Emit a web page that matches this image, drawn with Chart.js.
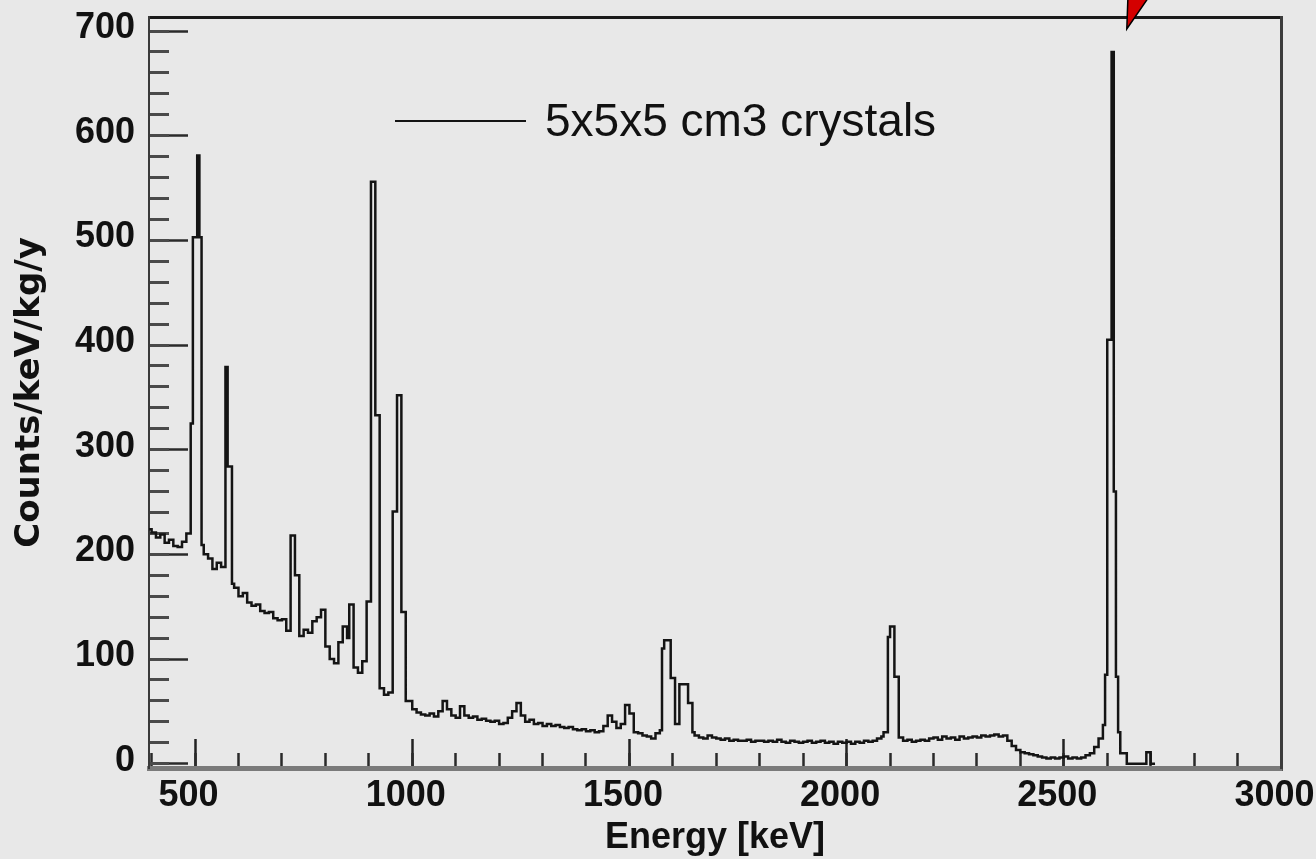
<!DOCTYPE html>
<html>
<head>
<meta charset="utf-8">
<title>Background spectrum – 5x5x5 cm3 crystals</title>
<script src="https://cdn.jsdelivr.net/npm/chart.js@4.4.1/dist/chart.umd.min.js"></script>
<style>
  html, body { margin: 0; padding: 0; background: #e8e8e8; }
  canvas { display: block; }
</style>
</head>
<body>
<canvas id="spectrum" width="1316" height="859"></canvas>
<script>
// ---- Histogram data -------------------------------------------------------
// Low edge of every bin (keV); bins are narrower around the gamma lines.
const binLowKeV = [
  390, 400, 410, 420, 430, 440, 450, 460, 470, 480,
  490, 495, 505, 510, 515,
  520, 530, 540, 550, 560,
  570, 575, 585,
  590, 600, 610, 620, 630, 640, 650, 660, 670, 680, 690, 700, 710,
  720, 730,
  740, 750, 760, 770, 780, 790, 800, 810, 820, 830, 840, 850,
  855, 865, 875, 885,
  895, 905, 915, 925, 935, 945,
  955, 965, 975, 985,
  1000, 1010, 1020, 1030, 1040, 1050, 1060, 1070, 1080, 1090,
  1100, 1110, 1120, 1130, 1140, 1150, 1160, 1170, 1180, 1190,
  1200, 1210, 1220, 1230, 1240, 1250, 1260, 1270, 1280, 1290,
  1300, 1310, 1320, 1330, 1340, 1350, 1360, 1370, 1380, 1390,
  1400, 1410, 1420, 1430, 1440, 1450, 1460, 1470, 1480, 1490,
  1500, 1510, 1520, 1530, 1540, 1550, 1560, 1570,
  1575, 1580, 1595, 1605, 1615, 1635, 1645,
  1650, 1660, 1670, 1680, 1690, 1700, 1710, 1720, 1730, 1740,
  1750, 1760, 1770, 1780, 1790, 1800, 1810, 1820, 1830, 1840,
  1850, 1860, 1870, 1880, 1890, 1900, 1910, 1920, 1930, 1940,
  1950, 1960, 1970, 1980, 1990, 2000, 2010, 2020, 2030, 2040,
  2050, 2060, 2070, 2080,
  2085, 2095, 2100, 2110,
  2120, 2130, 2140, 2150, 2160, 2170, 2180, 2190, 2200, 2210,
  2220, 2230, 2240, 2250, 2260, 2270, 2280, 2290, 2300, 2310,
  2320, 2330, 2340, 2350, 2360, 2370, 2380, 2390, 2400, 2410,
  2420, 2430, 2440, 2450, 2460, 2470, 2480, 2490, 2500, 2510,
  2520, 2530, 2540, 2550, 2560, 2570, 2580,
  2590, 2595, 2600, 2610, 2615, 2620, 2625, 2630, 2645, 2690, 2700
];
// Bin contents (counts/keV/kg/y), one per low edge above.
const countsPerKeV = [
  224, 221, 216, 219, 211, 214, 208, 207, 212, 220,
  325, 503, 581, 503, 209,
  200, 196, 186, 192, 188,
  379, 284, 172,
  168, 160, 163, 154, 151, 152, 146, 144, 145, 139, 137, 138, 127,
  218, 180,
  122, 128, 125, 136, 140, 147, 112, 100, 96, 116, 131, 120,
  152, 92, 87, 98,
  155, 556, 333, 72, 66, 68,
  241, 352, 145, 60,
  52, 49, 47, 46, 48, 45, 50, 60, 52, 46,
  44, 55, 46, 44, 45, 42, 43, 41, 40, 41,
  38, 39, 44, 50, 58, 46, 40, 42, 38, 39,
  36, 38, 36, 37, 35, 34, 35, 33, 32, 33,
  31, 32, 30, 31, 36, 46, 40, 34, 38, 56,
  48, 30, 29, 27, 26, 24, 29, 32,
  110, 118, 82, 38, 76, 58, 30,
  27, 25, 24, 27, 25, 24, 23, 24, 22, 23,
  22, 22, 23, 21, 22, 22, 21, 22, 21, 23,
  21, 20, 22, 21, 20, 21, 22, 20, 21, 22,
  20, 21, 19, 21, 20, 21, 19, 21, 20, 22,
  21, 22, 24, 26,
  30, 121, 131, 83,
  25, 22, 23, 21, 22, 23, 22, 24, 25, 23,
  26, 24, 25, 23, 26, 24, 25, 26, 25, 27,
  26, 27, 28, 26, 27, 22, 17, 13, 11, 10,
  9, 8, 7, 6, 5, 6, 5, 6, 7, 5,
  6, 5, 6, 8, 10, 16, 24,
  37, 85, 405, 680, 260, 83, 30, 10, 0, 11, 0
];
// Upper edge of the last bin (keV)
const histUpperKeV = 2710;

// ---- Axes ------------------------------------------------------------------
const energyRange = [394, 3000];
const countRange = [-4.1, 713.4];
const energyMajorTicks = [500, 1000, 1500, 2000, 2500, 3000];
const energyMinorTicks = [400, 500, 600, 700, 800, 900, 1000, 1100, 1200, 1300, 1400,
  1500, 1600, 1700, 1800, 1900, 2000, 2100, 2200, 2300, 2400, 2500, 2600, 2700,
  2800, 2900, 3000];
const countMajorTicks = [0, 100, 200, 300, 400, 500, 600, 700];
const countMinorTicks = [0, 20, 40, 60, 80, 100, 120, 140, 160, 180, 200, 220, 240,
  260, 280, 300, 320, 340, 360, 380, 400, 420, 440, 460, 480, 500, 520, 540, 560,
  580, 600, 620, 640, 660, 680, 700];

const seriesLabel = '5x5x5 cm3 crystals';
const energyTitle = 'Energy [keV]';
const countTitle = 'Counts/keV/kg/y';
// Arrow pointing at the 2614 keV line
const arrowTip = { energy: 2645, count: 702 };

// ---- Drawing ---------------------------------------------------------------
const SANS = "'Liberation Sans', Arial, Helvetica, sans-serif";
const INK = '#111111';

const points = binLowKeV.map((e, i) => ({ x: e, y: countsPerKeV[i] }));
points.push({ x: histUpperKeV, y: countsPerKeV[countsPerKeV.length - 1] });

// frame box sizes around the plot area (px)
const FRAME = { left: 149, right: 35, top: 17, bottom: 91 };

function sized(width, height) {
  return (scale) => {
    if (width !== null) scale.width = width;
    if (height !== null) scale.height = height;
    scale.paddingLeft = 0; scale.paddingRight = 0;
    scale.paddingTop = 0; scale.paddingBottom = 0;
  };
}
function tickSet(values) {
  return (scale) => { scale.ticks = values.map(v => ({ value: v })); };
}
const plainNumber = (v) => String(v);

const inlineLegend = {
  id: 'inlineLegend',
  afterDatasetsDraw(chart) {
    const ds = chart.data.datasets[0];
    const ctx = chart.ctx;
    ctx.save();
    ctx.strokeStyle = ds.borderColor;
    ctx.lineWidth = 2;
    ctx.beginPath();
    ctx.moveTo(395, 121);
    ctx.lineTo(526, 121);
    ctx.stroke();
    ctx.fillStyle = INK;
    ctx.font = '46px ' + SANS;
    ctx.textBaseline = 'middle';
    ctx.textAlign = 'left';
    ctx.fillText(ds.label, 545, 123);
    ctx.restore();
  }
};

const peakArrow = {
  id: 'peakArrow',
  afterDraw(chart) {
    const ctx = chart.ctx;
    const x = chart.scales.x.getPixelForValue(arrowTip.energy);
    const y = chart.scales.y.getPixelForValue(arrowTip.count);
    ctx.save();
    ctx.beginPath();
    ctx.moveTo(x, y);
    ctx.lineTo(x + 1.5, y - 42);
    ctx.lineTo(x + 29, y - 42);
    ctx.closePath();
    ctx.fillStyle = '#d40000';
    ctx.fill();
    ctx.lineWidth = 1.5;
    ctx.strokeStyle = '#000';
    ctx.stroke();
    ctx.restore();
  }
};

const hiddenLabels = { display: false };
const noGrid = { display: true, drawOnChartArea: false, drawTicks: false };

new Chart(document.getElementById('spectrum'), {
  type: 'line',
  data: {
    datasets: [{
      label: seriesLabel,
      data: points,
      stepped: true,
      borderColor: '#141414',
      borderWidth: 2.5,
      pointRadius: 0,
      fill: false,
      xAxisID: 'x',
      yAxisID: 'y'
    }]
  },
  options: {
    responsive: false,
    animation: false,
    devicePixelRatio: 1,
    events: [],
    layout: { padding: 0 },
    plugins: { legend: { display: false }, tooltip: { enabled: false } },
    scales: {
      x: {
        type: 'linear', axis: 'x', position: 'bottom', weight: 1,
        min: energyRange[0], max: energyRange[1],
        afterBuildTicks: tickSet(energyMajorTicks),
        afterFit: sized(null, FRAME.bottom),
        grid: { drawOnChartArea: false, drawTicks: true, tickLength: -29, tickWidth: 2.5, tickColor: '#222' },
        border: { display: true, color: '#7a7a7a', width: 5 },
        ticks: {
          callback: plainNumber, autoSkip: false, maxRotation: 0, minRotation: 0,
          color: INK, padding: 35, labelOffset: -6.5,
          font: { family: SANS, size: 36, weight: 'bold' }
        },
        title: {
          display: true, text: energyTitle, color: INK, padding: 0,
          font: { family: SANS, size: 36, weight: 'bold', lineHeight: 1.14 }
        }
      },
      xMinor: {
        type: 'linear', axis: 'x', position: 'bottom', weight: 0,
        min: energyRange[0], max: energyRange[1],
        afterBuildTicks: tickSet(energyMinorTicks),
        afterFit: sized(null, 0),
        grid: { drawOnChartArea: false, drawTicks: true, tickLength: -15, tickWidth: 2.5, tickColor: '#2a2a2a' },
        border: { display: false },
        ticks: hiddenLabels
      },
      xTop: {
        type: 'linear', axis: 'x', position: 'top',
        min: energyRange[0], max: energyRange[1],
        afterFit: sized(null, FRAME.top),
        grid: noGrid,
        border: { display: true, color: '#1a1a1a', width: 3 },
        ticks: hiddenLabels
      },
      y: {
        type: 'linear', axis: 'y', position: 'left', weight: 1,
        min: countRange[0], max: countRange[1],
        afterBuildTicks: tickSet(countMajorTicks),
        afterFit: sized(FRAME.left, null),
        grid: { drawOnChartArea: false, drawTicks: true, tickLength: -39, tickWidth: 2.5, tickColor: '#2a2a2a' },
        border: { display: true, color: '#3a3a3a', width: 2 },
        ticks: {
          callback: plainNumber, autoSkip: false,
          color: INK, padding: 53, labelOffset: -3,
          font: { family: SANS, size: 36, weight: 'bold' }
        },
        title: {
          display: true, text: countTitle, color: INK, padding: { top: 10, bottom: 0 },
          font: { family: "'DejaVu Sans', " + SANS, size: 34, weight: 'bold', lineHeight: 1.2 }
        }
      },
      yMinor: {
        type: 'linear', axis: 'y', position: 'left', weight: 0,
        min: countRange[0], max: countRange[1],
        afterBuildTicks: tickSet(countMinorTicks),
        afterFit: sized(0, null),
        grid: { drawOnChartArea: false, drawTicks: true, tickLength: -20, tickWidth: 3, tickColor: '#4a4a4a' },
        border: { display: false },
        ticks: hiddenLabels
      },
      yRight: {
        type: 'linear', axis: 'y', position: 'right',
        min: countRange[0], max: countRange[1],
        afterFit: sized(FRAME.right, null),
        grid: noGrid,
        border: { display: true, color: '#3c3c3c', width: 3 },
        ticks: hiddenLabels
      }
    }
  },
  plugins: [inlineLegend, peakArrow]
});
</script>
</body>
</html>
